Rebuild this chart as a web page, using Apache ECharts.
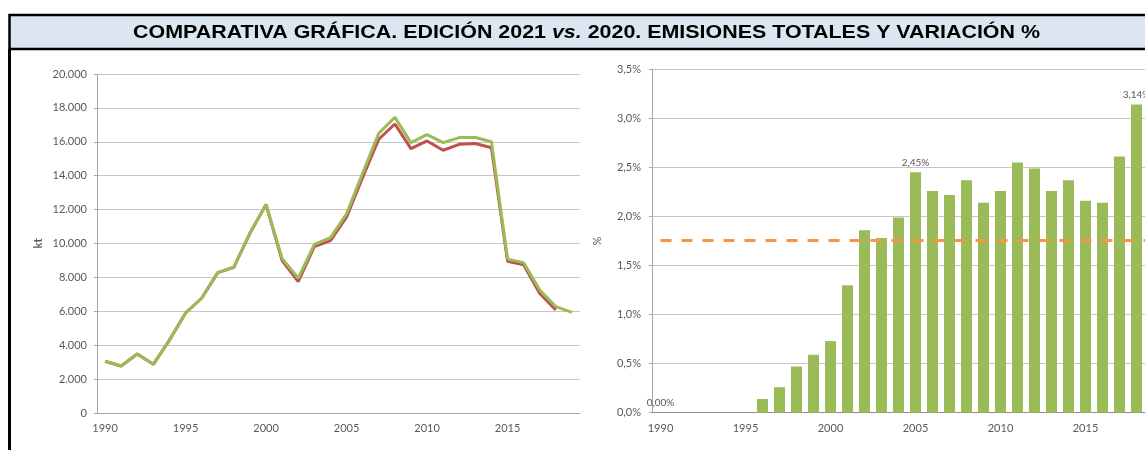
<!DOCTYPE html>
<html>
<head>
<meta charset="utf-8">
<script src="https://cdn.jsdelivr.net/npm/echarts@6/dist/echarts.min.js"></script>
<style>
html,body{margin:0;padding:0;background:#fff;overflow:hidden;}
#c{width:1175px;height:450px;}
</style>
</head>
<body>
<div id="c"></div>
<script>
// ---- data ----
const years = ['1990','1991','1992','1993','1994','1995','1996','1997','1998','1999',
  '2000','2001','2002','2003','2004','2005','2006','2007','2008','2009',
  '2010','2011','2012','2013','2014','2015','2016','2017','2018','2019'];
// Edición 2020 (kt) – red
const ed2020 = [3050,2770,3480,2870,4300,5900,6770,8280,8600,10600,
  12300,8990,7750,9810,10170,11550,13900,16150,17050,15600,
  16050,15500,15850,15900,15650,8950,8750,7050,6080,null];
// Edición 2021 (kt) – green
const ed2021 = [3050,2770,3480,2870,4300,5900,6770,8280,8600,10600,
  12300,9120,7950,9950,10350,11750,14150,16500,17450,15950,
  16420,15950,16250,16250,16000,9080,8870,7250,6280,5940];
// Variación % (bars)
const variacion = [0,0,0,0,0,0,0.14,0.26,0.47,0.59,
  0.73,1.30,1.86,1.78,1.99,2.45,2.26,2.22,2.37,2.14,
  2.26,2.55,2.49,2.26,2.37,2.16,2.14,2.61,3.14,null];
const labelledYears = ['1990','2005','2018'];
const averageVariation = 1.76;
const leftTicks = [0,2000,4000,6000,8000,10000,12000,14000,16000,18000,20000];
const rightTicks = [0,0.5,1.0,1.5,2.0,2.5,3.0,3.5];
const titleText = '{b|COMPARATIVA GRÁFICA. EDICIÓN 2021 }{i|vs.}{b| 2020. EMISIONES TOTALES Y VARIACIÓN %}';

const FONT = 'Lato';
const LBL = '#595959';
const GRID = '#c6c6c6';
const AXIS = '#a6a6a6';

const fmtThousands = v => String(v).replace(/\B(?=(\d{3})+(?!\d))/g, '.');
const fmtPct1 = v => v.toFixed(1).replace('.', ',') + '%';
const fmtPct2 = v => v.toFixed(2).replace('.', ',') + '%';

const barData = variacion.map((v, i) => {
  if (labelledYears.indexOf(years[i]) >= 0) {
    return {value: v, label: {show: true}};
  }
  return v;
});

const chart = echarts.init(document.getElementById('c'), null, {renderer: 'canvas'});
chart.setOption({
  animation: false,
  backgroundColor: '#fff',
  graphic: [
    {type: 'rect', z: 0, shape: {x: 9.5, y: 15, width: 1200, height: 34},
     style: {fill: '#dce6f1', stroke: '#000', lineWidth: 2.5}},
    {type: 'line', z: 0, shape: {x1: 9.5, y1: 49, x2: 9.5, y2: 460},
     style: {stroke: '#000', lineWidth: 3}},
    {type: 'text', z: 10, x: 586.5, y: 33, scaleX: 1.19,
     style: {text: titleText, align: 'center', verticalAlign: 'middle',
       rich: {
         b: {fontFamily: 'Liberation Sans', fontWeight: 'bold', fontSize: 18, fill: '#000'},
         i: {fontFamily: 'Liberation Sans', fontWeight: 'bold', fontStyle: 'italic', fontSize: 18, fill: '#000'}
       }}}
  ],
  grid: [
    {left: 97, top: 74, width: 483, height: 339},
    {left: 652, top: 69.3, width: 510, height: 343.4}
  ],
  xAxis: [
    {gridIndex: 0, type: 'category', data: years, boundaryGap: true,
     axisLine: {lineStyle: {color: AXIS, width: 1}},
     axisTick: {show: false},
     axisLabel: {interval: 4, margin: 10, fontFamily: FONT, fontSize: 11, color: LBL}},
    {gridIndex: 1, type: 'category', data: years, boundaryGap: true,
     axisLine: {lineStyle: {color: '#8c8c8c', width: 1}},
     axisTick: {show: false},
     axisLabel: {interval: 4, margin: 10, fontFamily: FONT, fontSize: 11, color: LBL}}
  ],
  yAxis: [
    {gridIndex: 0, type: 'value', min: leftTicks[0], max: leftTicks[leftTicks.length-1], interval: 2000,
     name: 'kt', nameLocation: 'middle', nameGap: 53, nameRotate: 90,
     nameTextStyle: {fontFamily: FONT, fontWeight: 'bold', fontSize: 11, color: LBL},
     axisLine: {show: true, lineStyle: {color: AXIS}},
     axisTick: {show: true, length: 3, lineStyle: {color: AXIS}},
     splitLine: {lineStyle: {color: GRID, width: 1}},
     axisLabel: {margin: 10, fontFamily: FONT, fontSize: 11, color: LBL, formatter: fmtThousands}},
    {gridIndex: 1, type: 'value', min: rightTicks[0], max: rightTicks[rightTicks.length-1], interval: 0.5,
     name: '%', nameLocation: 'middle', nameGap: 49, nameRotate: 90,
     nameTextStyle: {fontFamily: FONT, fontSize: 11, color: LBL},
     axisLine: {show: true, lineStyle: {color: AXIS}},
     axisTick: {show: true, length: 3, lineStyle: {color: AXIS}},
     splitLine: {lineStyle: {color: GRID, width: 1}},
     axisLabel: {margin: 11, fontFamily: FONT, fontSize: 11, color: LBL, formatter: fmtPct1}}
  ],
  series: [
    {name: 'Edición 2020', type: 'line', xAxisIndex: 0, yAxisIndex: 0, data: ed2020,
     symbol: 'none', lineStyle: {color: '#c0504d', width: 3}, z: 2},
    {name: 'Edición 2021', type: 'line', xAxisIndex: 0, yAxisIndex: 0, data: ed2021,
     symbol: 'none', lineStyle: {color: '#9bbb59', width: 3}, z: 3},
    {name: 'Variación', type: 'bar', xAxisIndex: 1, yAxisIndex: 1, data: barData,
     barWidth: 11, itemStyle: {color: '#9bbb59'},
     label: {show: false, position: 'top', distance: 5, fontFamily: FONT, fontSize: 10, color: LBL,
             formatter: p => fmtPct2(p.value)},
     markLine: {silent: true, symbol: 'none', label: {show: false},
       lineStyle: {color: '#f79646', width: 3, type: [11, 10]},
       data: [[{coord: [years[0], averageVariation]}, {coord: [years[years.length-1], averageVariation]}]]}}
  ]
});
</script>
</body>
</html>
